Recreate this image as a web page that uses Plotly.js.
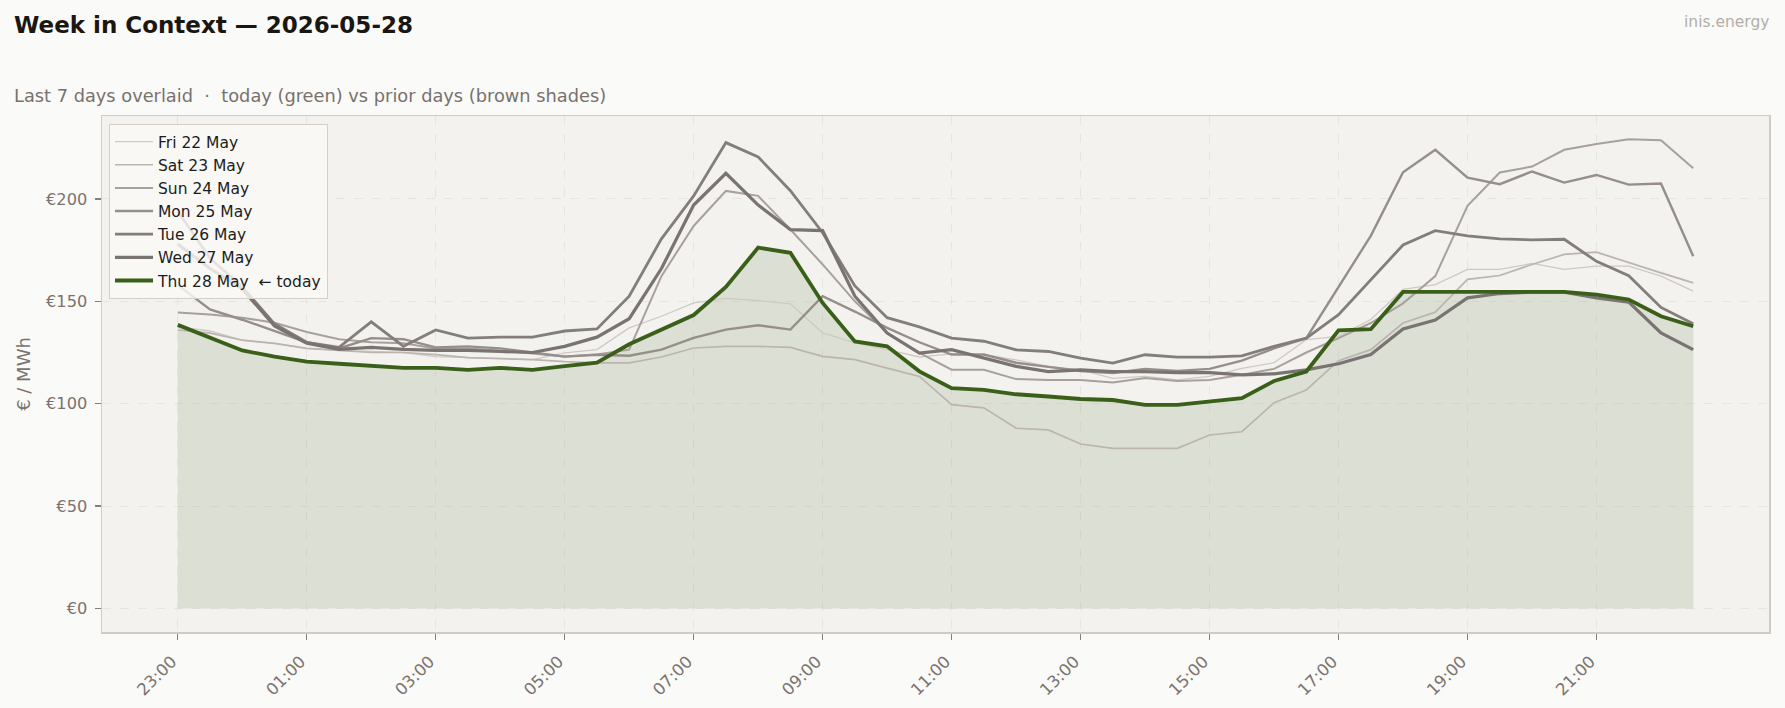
<!DOCTYPE html>
<html>
<head>
<meta charset="utf-8">
<script src="https://cdn.plot.ly/plotly-3.0.1.min.js"></script>
<style>
  html, body { margin: 0; padding: 0; background: #fafaf8; }
  #chart { width: 1785px; height: 708px; }
</style>
</head>
<body>
<div id="chart"></div>
<script>
const slots = ["23:00","23:30","00:00","00:30","01:00","01:30","02:00","02:30","03:00","03:30","04:00","04:30","05:00","05:30","06:00","06:30","07:00","07:30","08:00","08:30","09:00","09:30","10:00","10:30","11:00","11:30","12:00","12:30","13:00","13:30","14:00","14:30","15:00","15:30","16:00","16:30","17:00","17:30","18:00","18:30","19:00","19:30","20:00","20:30","21:00","21:30","22:00","22:30"];

const tickSlots = ["23:00","01:00","03:00","05:00","07:00","09:00","11:00","13:00","15:00","17:00","19:00","21:00"];
const yTickVals = [0, 50, 100, 150, 200];
const yTickText = ["€0", "€50", "€100", "€150", "€200"];

const dayNames = ["Fri 22 May", "Sat 23 May", "Sun 24 May", "Mon 25 May", "Tue 26 May", "Wed 27 May", "Thu 28 May  ← today"];

const fri = [137.5,135.5,131,129.5,127,126,125.5,125,123,122.5,122,121.5,124.8,126.4,137,142.7,149.2,151.4,150.4,148.8,134.6,129.7,126.4,122.8,124.3,123.9,121.4,118.2,116.5,112.4,113.3,111.6,113.3,117.3,120,131.3,132.9,141.1,155.8,158.2,165.6,165.6,168.5,165.6,167.2,167.2,162.3,155];
const sat = [136,134.5,131,129.5,127,126,125,125,124,122.5,122,121.5,120.5,119.9,119.9,122.8,127.2,128,128,127.5,123.1,121.5,117.4,113.3,99.5,98,88,87.2,80.3,78.2,78.2,78.2,84.7,86.3,100.5,106.7,121,126.4,139.4,144.7,160.7,162.6,168,172.9,174,168.8,163.9,159];
const sun = [144.5,143.5,142,139.5,135,131.5,130,129.5,127,127,126,124.5,123,124,126.4,162.3,186.8,203.9,201.5,185.1,168,150,134.5,124.8,116.6,116.6,112,111.6,111.6,110.3,112.5,111.1,111.6,114.1,117,125,132,139.4,149,162.3,196.6,212.9,215.8,224,226.8,229.2,228.7,215];
const mon = [158,146,141,135.5,130,127,132,131.5,127.5,128,127,125,123,123.9,123.4,126.4,132.1,136.2,138.3,136.2,152.5,145,137,130,124,124,120,118,116,115,117,116,117,121,127,132,157,182,213,224,210.4,207.2,213.4,208,211.7,207,207.5,172];
const tue = [194,171,157,139,130,127.5,140,128,136,132,132.5,132.5,135.5,136.5,152.5,180.5,201.5,227.5,220.5,204,183.5,157.5,142,137.5,132,130.5,126.3,125.5,122.2,119.8,123.9,122.7,122.7,123.4,128,132,143.5,160.5,177.5,184.5,182,180.5,180,180.3,169.5,162.5,147,139];
const wed = [178,166,156,138,129.5,126.5,127.5,126.5,126,126,125.5,125,128,132.5,141.5,166,197,212.5,197,185,184.5,152.5,134.5,124.7,126.4,122.3,118.2,115.7,116.5,115.7,115.7,115.2,115.2,114.1,114.6,116.5,119.5,124,136.5,140.8,151.7,153.8,154.5,154.5,151.7,149.6,134.6,126.4];
const thu = [138.5,132,126,123,120.5,119.5,118.3,117.5,117.5,116.5,117.5,116.5,118.3,120,129,136,143.3,157,176.2,173.7,149.2,130.4,128,115.8,107.6,106.8,104.6,103.5,102.3,101.8,99.4,99.4,101,102.7,111.1,115.7,135.8,136.4,154.6,154.6,154.8,154.6,154.6,154.6,153.3,150.9,142.7,137.8];

const priorSeries = [fri, sat, sun, mon, tue, wed];
const priorColors = ["#cfc9c4", "#bbb4af", "#a8a09c", "#968e8a", "#847e7b", "#797371"];
const priorWidths = [1.3, 1.7, 2.0, 2.4, 2.8, 3.2];
const todayColor = "#3a5f18";

const FONT = "DejaVu Sans, Verdana, sans-serif";

const traces = [];
traces.push({
  x: slots, y: thu, type: "scatter", mode: "lines",
  line: { width: 0, color: "rgba(58,95,24,0)" },
  fill: "tozeroy", fillcolor: "rgba(58,95,24,0.12)",
  showlegend: false, hoverinfo: "skip"
});
priorSeries.forEach((s, k) => {
  traces.push({
    x: slots, y: s, type: "scatter", mode: "lines", name: dayNames[k],
    line: { color: priorColors[k], width: priorWidths[k] }
  });
});
traces.push({
  x: slots, y: thu, type: "scatter", mode: "lines", name: dayNames[6],
  line: { color: todayColor, width: 3.8 }
});

const W = 1785, H = 708;
const mL = 102, mR = 16, mT = 116, mB = 76;
const pw = W - mL - mR, ph = H - mT - mB;
const px2x = (px) => (px - mL) / pw;
const py2y = (py) => (H - mB - py) / ph;

const layout = {
  width: W, height: H,
  margin: { l: mL, r: mR, t: mT, b: mB, pad: 0 },
  paper_bgcolor: "#fafaf8",
  plot_bgcolor: "#f3f2ee",
  font: { family: FONT, size: 16, color: "#7a736e" },
  title: {
    text: "Week in Context — 2026-05-28",
    font: { family: FONT, size: 23, color: "#1a1612", weight: "bold" },
    x: 14 / W, xref: "container", xanchor: "left",
    y: 1 - 25 / H, yref: "container", yanchor: "middle"
  },
  showlegend: true,
  legend: {
    x: px2x(109), y: py2y(124), xanchor: "left", yanchor: "top",
    bgcolor: "rgba(250,249,247,0.82)",
    bordercolor: "#d4cfc9", borderwidth: 1,
    font: { family: FONT, size: 15.5, color: "#1c1c1c" },
    itemwidth: 38,
    tracegroupgap: 0
  },
  xaxis: {
    type: "category",
    range: [-2.35, 49.35],
    tickmode: "array", tickvals: tickSlots, ticktext: tickSlots.map(t => t + "\u00a0\u2009"),
    tickangle: -45,
    ticks: "outside", ticklen: 6, tickwidth: 1.2, tickcolor: "#857e79",
    tickfont: { family: FONT, size: 16.5, color: "#7a736e" },
    showgrid: true, gridcolor: "#e6e3de", griddash: "dash", gridwidth: 0.9,
    showline: true, linecolor: "#d0cbc5", linewidth: 1.5, mirror: true,
    zeroline: false, fixedrange: true
  },
  yaxis: {
    range: [-11.5, 240.5],
    tickmode: "array", tickvals: yTickVals, ticktext: yTickText,
    ticks: "outside", ticklen: 6, tickwidth: 1.2, tickcolor: "#857e79",
    ticklabelstandoff: 4,
    tickfont: { family: FONT, size: 16.2, color: "#7a736e" },
    showgrid: true, gridcolor: "#e6e3de", griddash: "dash", gridwidth: 0.9,
    showline: true, linecolor: "#d0cbc5", linewidth: 1.5, mirror: true,
    zeroline: false, fixedrange: true,
    title: { text: "€ / MWh", font: { family: FONT, size: 18, color: "#7a736e" }, standoff: 11 }
  },
  annotations: [
    {
      text: "Last 7 days overlaid  ·  today (green) vs prior days (brown shades)",
      xref: "paper", yref: "paper", x: px2x(12), y: py2y(96),
      xanchor: "left", yanchor: "middle", showarrow: false,
      font: { family: FONT, size: 17.8, color: "#78716c" }
    },
    {
      text: "inis.energy",
      xref: "paper", yref: "paper", x: px2x(1771), y: py2y(22),
      xanchor: "right", yanchor: "middle", showarrow: false,
      font: { family: FONT, size: 15.5, color: "#b3aea9" }
    }
  ]
};

Plotly.newPlot("chart", traces, layout, { displayModeBar: false, staticPlot: true });
</script>
</body>
</html>
